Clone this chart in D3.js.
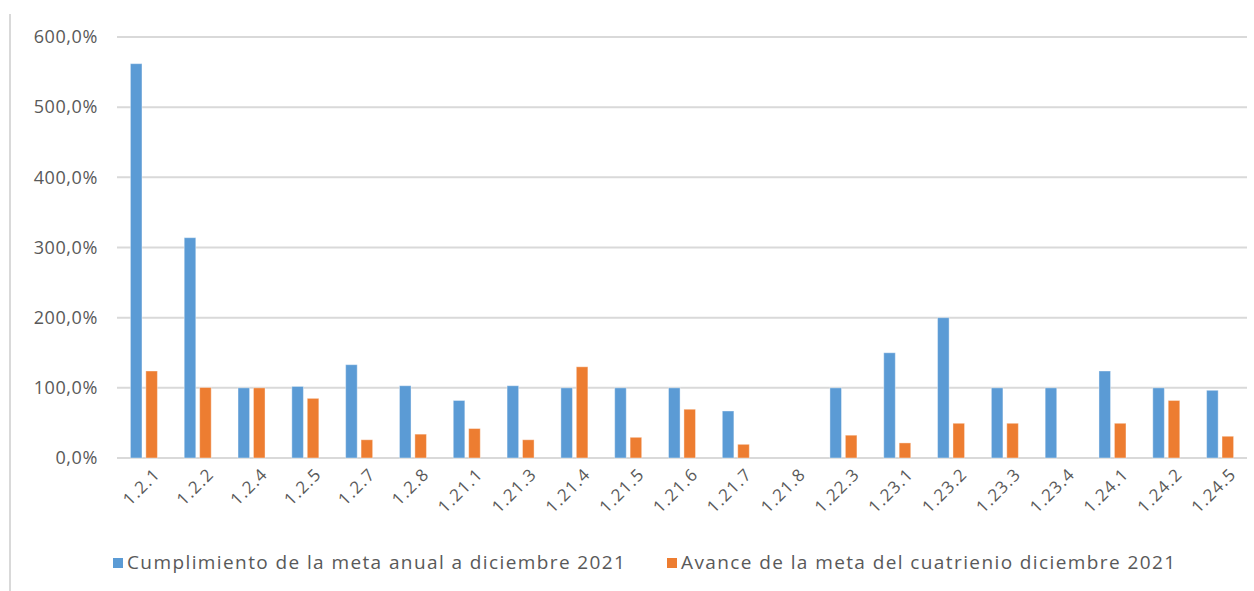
<!DOCTYPE html>
<html>
<head>
<meta charset="utf-8">
<script src="https://cdn.jsdelivr.net/npm/d3@7"></script>
<style>
  body { margin: 0; background: #fff; }
  text { font-family: "Open Sans", "DejaVu Sans", sans-serif; fill: #595959; }
</style>
</head>
<body>
<div id="chart"></div>
<script>
// categories and the two series (percent)
const categories = ["1.2.1", "1.2.2", "1.2.4", "1.2.5", "1.2.7", "1.2.8", "1.21.1", "1.21.3", "1.21.4", "1.21.5", "1.21.6",
                    "1.21.7", "1.21.8", "1.22.3", "1.23.1", "1.23.2", "1.23.3", "1.23.4", "1.24.1", "1.24.2", "1.24.5"]
const cumplimiento = [562, 314, 100, 102, 133, 103, 82, 103, 100, 100, 100, 67, 0, 100, 150, 200, 100, 100, 124, 100, 96.5]
const avance       = [124, 100.5, 100, 85, 26, 34, 42, 26, 130, 29.5, 69.5, 19.5, 0, 32.5, 21.5, 49.5, 49.5, 0, 49.5, 82, 31]
const yTicks = [0, 100, 200, 300, 400, 500, 600]
const seriesNames = ["Cumplimiento de la meta anual a diciembre 2021", "Avance de la meta del cuatrienio diciembre 2021"]
const colors = ["#5B9BD5", "#ED7D31"]

const W = 1254, H = 591
const svg = d3.select("#chart").append("svg").attr("width", W).attr("height", H)

// chart border (only the left edge shows)
svg.append("line")
    .attr("x1", 10).attr("x2", 10).attr("y1", 14).attr("y2", H)
    .attr("stroke", "#d9d9d9").attr("stroke-width", 2)

const x0 = d3.scaleBand().domain(categories).range([117, 1247])
const x1 = d3.scaleBand().domain([0, 1])
    .range([x0.bandwidth() / 2 - 13.5, x0.bandwidth() / 2 + 13.5])
    .paddingInner(0.25)
const y = d3.scaleLinear().domain([0, 600]).range([458, 37])

// gridlines
svg.append("g").selectAll("line").data(yTicks).join("line")
    .attr("x1", 117).attr("x2", 1247)
    .attr("y1", d => y(d)).attr("y2", d => y(d))
    .attr("stroke", "#d9d9d9").attr("stroke-width", 2)

const fmt = d => d3.format(".1f")(d).replace(".", ",") + "%"
svg.append("g").selectAll("text").data(yTicks).join("text")
    .attr("x", 98).attr("y", d => y(d)).attr("dy", "0.35em")
    .attr("text-anchor", "end").attr("font-size", 18).attr("letter-spacing", 0.6)
    .text(fmt)

// bars
const rows = categories.map((c, i) => ({cat: c, vals: [cumplimiento[i], avance[i]]}))
const groups = svg.append("g").selectAll("g").data(rows).join("g")
    .attr("transform", d => `translate(${x0(d.cat)},0)`)
groups.selectAll("rect").data(d => d.vals.map((v, k) => ({v, k}))).join("rect")
    .filter(d => d.v > 0)
    .attr("x", d => x1(d.k)).attr("width", x1.bandwidth())
    .attr("y", d => y(d.v)).attr("height", d => y(0) - y(d.v))
    .attr("fill", d => colors[d.k])
    .attr("stroke", "#fff").attr("stroke-opacity", 0.4).attr("stroke-width", 1)

// x labels, rotated
svg.append("g").selectAll("text").data(categories).join("text")
    .attr("transform", d => `translate(${x0(d) + x0.bandwidth() / 2 + 13},${471}) rotate(-45)`)
    .attr("text-anchor", "end").attr("dy", "0.35em")
    .attr("font-size", 17).attr("letter-spacing", 1.2)
    .text(d => d)

// legend
const legendX = [113, 667]
const legend = svg.append("g").selectAll("g").data(seriesNames).join("g")
    .attr("transform", (d, i) => `translate(${legendX[i]},558)`)
legend.append("rect").attr("width", 10).attr("height", 10).attr("fill", (d, i) => colors[i])
legend.append("text").attr("x", 14).attr("y", 11).attr("font-size", 19).attr("letter-spacing", 1.4).text(d => d)
</script>
</body>
</html>
